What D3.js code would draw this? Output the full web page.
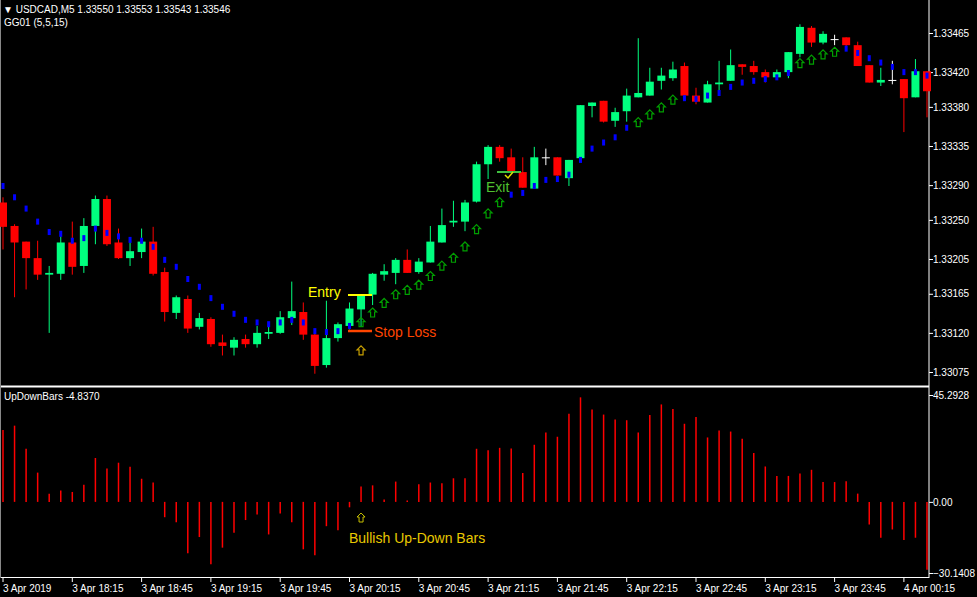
<!DOCTYPE html>
<html>
<head>
<meta charset="utf-8">
<script src="https://cdn.jsdelivr.net/npm/d3@7"></script>
<style>
  body { margin: 0; background: #000; }
  svg text { font-family: "Liberation Sans", Arial, sans-serif; }
</style>
</head>
<body>
<div id="chart"></div>
<script>
// candles USDCAD M5
var opens  = [1.33270,1.33243,1.33225,1.33206,1.33187,1.33188,1.33224,1.33197,1.33243,1.33274,1.33224,1.33206,1.33213,1.33225,1.33190,1.33143,1.33159,1.33127,1.33136,1.33109,1.33103,1.33113,1.33107,1.33119,1.33120,1.33137,1.33144,1.33118,1.33083,1.33114,1.33128,1.33147,1.33164,1.33187,1.33189,1.33204,1.33190,1.33201,1.33224,1.33247,1.33248,1.33271,1.33314,1.33334,1.33322,1.33305,1.33286,1.33322,1.33322,1.33298,1.33321,1.33381,1.33387,1.33364,1.33375,1.33391,1.33393,1.33410,1.33413,1.33427,1.33393,1.33385,1.33406,1.33410,1.33429,1.33427,1.33420,1.33414,1.33420,1.33441,1.33471,1.33454,1.33458,1.33460,1.33451,1.33428,1.33408,1.33411,1.33412,1.33391,1.33421];
var highs  = [1.33276,1.33245,1.33225,1.33226,1.33197,1.33231,1.33248,1.33252,1.33278,1.33278,1.33240,1.33224,1.33240,1.33242,1.33195,1.33163,1.33163,1.33143,1.33138,1.33118,1.33115,1.33118,1.33128,1.33127,1.33145,1.33179,1.33155,1.33121,1.33157,1.33132,1.33155,1.33164,1.33189,1.33199,1.33206,1.33216,1.33206,1.33243,1.33263,1.33272,1.33273,1.33317,1.33336,1.33336,1.33332,1.33322,1.33334,1.33332,1.33322,1.33319,1.33382,1.33385,1.33387,1.33379,1.33401,1.33459,1.33425,1.33425,1.33432,1.33431,1.33402,1.33410,1.33433,1.33446,1.33429,1.33433,1.33423,1.33423,1.33443,1.33475,1.33473,1.33467,1.33463,1.33460,1.33455,1.33428,1.33425,1.33433,1.33412,1.33435,1.33421];
var lows   = [1.33216,1.33161,1.33170,1.33181,1.33120,1.33181,1.33187,1.33189,1.33222,1.33220,1.33205,1.33197,1.33206,1.33186,1.33133,1.33136,1.33120,1.33124,1.33104,1.33094,1.33094,1.33103,1.33103,1.33113,1.33119,1.33129,1.33112,1.33073,1.33080,1.33110,1.33124,1.33127,1.33152,1.33180,1.33176,1.33189,1.33188,1.33201,1.33224,1.33242,1.33237,1.33270,1.33297,1.33317,1.33305,1.33287,1.33286,1.33313,1.33301,1.33289,1.33321,1.33368,1.33362,1.33357,1.33363,1.33391,1.33393,1.33400,1.33410,1.33393,1.33383,1.33385,1.33393,1.33410,1.33417,1.33417,1.33408,1.33413,1.33413,1.33437,1.33449,1.33452,1.33451,1.33449,1.33427,1.33408,1.33404,1.33406,1.33351,1.33391,1.33368];
var closes = [1.33242,1.33224,1.33206,1.33187,1.33189,1.33224,1.33196,1.33243,1.33274,1.33222,1.33206,1.33214,1.33225,1.33188,1.33144,1.33161,1.33125,1.33137,1.33107,1.33105,1.33112,1.33107,1.33120,1.33121,1.33138,1.33145,1.33118,1.33082,1.33114,1.33130,1.33148,1.33164,1.33188,1.33191,1.33204,1.33189,1.33202,1.33225,1.33244,1.33249,1.33270,1.33314,1.33334,1.33321,1.33305,1.33287,1.33322,1.33322,1.33301,1.33319,1.33382,1.33385,1.33363,1.33374,1.33393,1.33396,1.33409,1.33416,1.33423,1.33393,1.33386,1.33406,1.33408,1.33428,1.33426,1.33420,1.33414,1.33420,1.33443,1.33472,1.33454,1.33464,1.33458,1.33451,1.33427,1.33408,1.33411,1.33411,1.33390,1.33421,1.33398];

// GG01 trailing level, arrows where the trend is up
var gg01 = [1.33289,1.33276,1.33263,1.33248,1.33236,1.33234,1.33226,1.33229,1.33240,1.33235,1.33231,1.33227,1.33226,1.33219,1.33204,1.33196,1.33182,1.33173,1.33160,1.33150,1.33142,1.33135,1.33132,1.33130,1.33132,1.33135,1.33132,1.33122,1.33121,1.33122,1.33128,1.33133,1.33144,1.33155,1.33165,1.33170,1.33176,1.33186,1.33198,1.33207,1.33220,1.33240,1.33258,1.33271,1.33279,1.33281,1.33289,1.33296,1.33297,1.33302,1.33319,1.33332,1.33339,1.33345,1.33356,1.33363,1.33372,1.33380,1.33389,1.33390,1.33389,1.33393,1.33396,1.33403,1.33408,1.33410,1.33412,1.33414,1.33419,1.33431,1.33435,1.33441,1.33444,1.33447,1.33442,1.33436,1.33431,1.33426,1.33420,1.33420,1.33416];
var arrowBars = [31,32,33,34,35,36,37,38,39,40,41,42,43,55,56,57,58,69,70,71,72];

// UpDownBars oscillator
var updown = [30.5,32.3,22.5,12.4,3.4,4.8,4.2,7.3,18.6,14.1,16.6,14.9,9.8,8.2,-6.5,-8.6,-21.8,-14.9,-26.4,-19.4,-13.1,-7.7,-5.3,-13.8,-4.9,-8.6,-20.1,-22.6,-10.3,-12.0,-2.3,6.5,7.0,1.0,8.6,0.6,7.5,8.2,7.9,10.0,10.0,22.5,21.9,22.9,22.6,12.2,24.2,29.4,27.6,37.3,44.3,39.2,37.0,34.9,34.6,29.4,36.8,41.3,39.4,33.1,36.0,27.3,30.2,29.8,26.7,20.7,15.0,11.0,11.0,12.0,13.6,8.4,8.4,8.7,3.5,-9.6,-15.2,-11.7,-16.2,-15.2,-28.8];

var priceTicks = [1.33465,1.33420,1.33380,1.33335,1.33290,1.33250,1.33205,1.33165,1.33120,1.33075];
var oscTicks = [45.2928, 0, -30.1408];
var timeIdx = [0,6,12,18,24,30,36,42,48,54,60,66,72,78];
var timeLabels = ["3 Apr 2019","3 Apr 18:15","3 Apr 18:45","3 Apr 19:15","3 Apr 19:45","3 Apr 20:15","3 Apr 20:45","3 Apr 21:15","3 Apr 21:45","3 Apr 22:15","3 Apr 22:45","3 Apr 23:15","3 Apr 23:45","4 Apr 00:15"];

var W = 977, H = 597, plotR = 929;
var UP = "#00ff7f", DN = "#ff0000";

var svg = d3.select("#chart").append("svg")
    .attr("width", W).attr("height", H)
    .style("background", "#000");

var x = d3.scaleLinear().domain([0, opens.length - 1]).range([3, 927]);
var y = d3.scaleLinear().domain([1.33075, 1.33465]).range([372, 33]);
var yo = d3.scaleLinear().domain([-30.1408, 45.2928]).range([573, 395]);

// frame
svg.append("line").attr("x1", plotR).attr("x2", plotR).attr("y1", 0).attr("y2", 578).attr("stroke", "#fff");
svg.append("line").attr("x1", 0).attr("x2", plotR).attr("y1", 386.5).attr("y2", 386.5).attr("stroke", "#fff").attr("stroke-width", 2);
svg.append("line").attr("x1", 0).attr("x2", plotR).attr("y1", 577.5).attr("y2", 577.5).attr("stroke", "#fff");
svg.append("line").attr("x1", 0.5).attr("x2", 0.5).attr("y1", 0).attr("y2", 578).attr("stroke", "#888");

// price axis
var yAxis = d3.axisRight(y).tickValues(priceTicks).tickFormat(d3.format(".5f")).tickSize(4);
svg.append("g").attr("transform", "translate(" + plotR + ",0)").call(yAxis);
var oAxis = d3.axisRight(yo).tickValues(oscTicks).tickSize(4)
    .tickFormat(function(d) { return d === 0 ? "0.00" : d3.format(".4f")(d); });
svg.append("g").attr("transform", "translate(" + plotR + ",0)").call(oAxis);
svg.selectAll(".tick line").attr("stroke", "#fff");
svg.selectAll(".domain").remove();
svg.selectAll(".tick text").attr("fill", "#fff").style("font-size", "10px").attr("x", 4);

// time axis
timeIdx.forEach(function(i, k) {
  svg.append("line").attr("x1", x(i)).attr("x2", x(i)).attr("y1", 578).attr("y2", 582).attr("stroke", "#fff");
  svg.append("text").attr("x", x(i)).attr("y", 592).attr("fill", "#fff").style("font-size", "10px").text(timeLabels[k]);
});

// candles
var idx = d3.range(opens.length);
var g = svg.append("g");
g.selectAll(".wick").data(idx).enter().append("line")
  .attr("x1", function(i) { return x(i); }).attr("x2", function(i) { return x(i); })
  .attr("y1", function(i) { return y(highs[i]); }).attr("y2", function(i) { return y(lows[i]); })
  .attr("stroke", function(i) { return closes[i] > opens[i] ? UP : closes[i] < opens[i] ? DN : "#fff"; });
g.selectAll(".body").data(idx).enter().append("rect")
  .attr("x", function(i) { return x(i) - 4; })
  .attr("width", 8)
  .attr("y", function(i) { return y(Math.max(opens[i], closes[i])); })
  .attr("height", function(i) { return Math.max(1, Math.abs(y(opens[i]) - y(closes[i]))); })
  .attr("fill", function(i) { return closes[i] > opens[i] ? UP : closes[i] < opens[i] ? DN : "#fff"; });

// GG01 dots and arrows
var dotIdx = idx.filter(function(i) { return arrowBars.indexOf(i) < 0; });
g.selectAll(".dot").data(dotIdx).enter().append("rect")
  .attr("x", function(i) { return x(i) - 1.5; }).attr("y", function(i) { return y(gg01[i]) - 3; })
  .attr("width", 3).attr("height", 6).attr("fill", "#0000ff");
function arrowPath(cx, cy) {
  return "M" + cx + "," + cy + " l4,4 h-2 v5 h-4 v-5 h-2 z";
}
g.selectAll(".arr").data(arrowBars).enter().append("path")
  .attr("d", function(i) { return arrowPath(x(i), y(gg01[i]) - 4); })
  .attr("fill", "none").attr("stroke", "#00a000").attr("stroke-width", 1.2);

// annotations
svg.append("path").attr("d", arrowPath(x(31), y(1.33105))).attr("fill", "none").attr("stroke", "#c8a000").attr("stroke-width", 1.2);
svg.append("line").attr("x1", 348).attr("x2", 372).attr("y1", 295).attr("y2", 295).attr("stroke", "#ffff00").attr("stroke-width", 2);
svg.append("text").attr("x", 308).attr("y", 297).attr("fill", "#ffff00").style("font-size", "14px").text("Entry");
svg.append("line").attr("x1", 348).attr("x2", 372).attr("y1", 331).attr("y2", 331).attr("stroke", "#ff4500").attr("stroke-width", 2.5);
svg.append("text").attr("x", 374).attr("y", 337).attr("fill", "#ff4500").style("font-size", "14px").text("Stop Loss");
svg.append("line").attr("x1", 497).attr("x2", 521).attr("y1", 172).attr("y2", 172).attr("stroke", "#40c040").attr("stroke-width", 2);
svg.append("path").attr("d", "M505,175 l3,3 l5,-6").attr("fill", "none").attr("stroke", "#e0e000").attr("stroke-width", 1.5);
svg.append("text").attr("x", 486).attr("y", 192).attr("fill", "#50c030").style("font-size", "14px").text("Exit");

// oscillator
svg.append("g").selectAll("line").data(idx).enter().append("line")
  .attr("x1", function(i) { return x(i); }).attr("x2", function(i) { return x(i); })
  .attr("y1", yo(0)).attr("y2", function(i) { return yo(updown[i]); })
  .attr("stroke", "#ff0000").attr("stroke-width", 1.5);
svg.append("path").attr("d", arrowPath(x(31), 513)).attr("fill", "none").attr("stroke", "#c8c000").attr("stroke-width", 1);
svg.append("text").attr("x", 349).attr("y", 543).attr("fill", "#e8c800").style("font-size", "14px").text("Bullish Up-Down Bars");

// headers
svg.append("text").attr("x", 3).attr("y", 13).attr("fill", "#fff").style("font-size", "10px")
  .text("\u25BC USDCAD,M5  1.33550 1.33553 1.33543 1.33546");
svg.append("text").attr("x", 4).attr("y", 26).attr("fill", "#fff").style("font-size", "10px").text("GG01 (5,5,15)");
svg.append("text").attr("x", 4).attr("y", 400).attr("fill", "#fff").style("font-size", "10px").text("UpDownBars -4.8370");
</script>
</body>
</html>
